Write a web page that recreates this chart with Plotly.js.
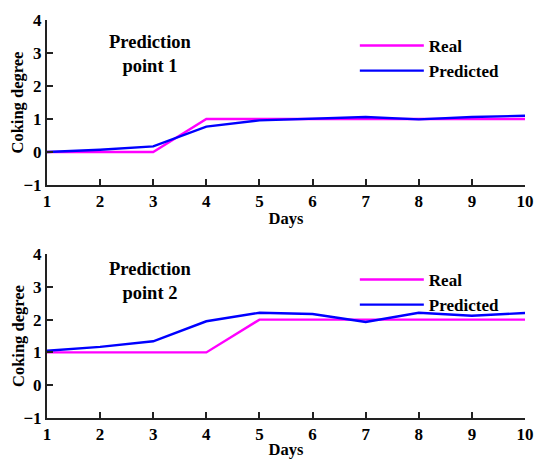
<!DOCTYPE html>
<html><head><meta charset="utf-8">
<script src="https://cdn.plot.ly/plotly-3.0.1.min.js"></script>
<style>body{margin:0;padding:0;background:#fff}#chart{width:534px;height:459px}</style>
</head><body><div id="chart"></div>
<script>
const days = [1,2,3,4,5,6,7,8,9,10];
const real1 = [0,0,0,1,1,1,1,1,1,1];
const pred1 = [0,0.07,0.17,0.77,0.96,1.02,1.06,0.99,1.06,1.1];
const real2 = [1,1,1,1,2,2,2,2,2,2];
const pred2 = [1.05,1.17,1.34,1.95,2.21,2.17,1.93,2.21,2.12,2.2];
const yTicks = [-1,0,1,2,3,4];
const pointLabels = ["Prediction<br>point 1","Prediction<br>point 2"];
const yTitle = "Coking degree";
const xTitle = "Days";

const F = "Times New Roman";
const MAG = "#ff00ff", BLU = "#0000ff";

const traces = [
  {x:days,y:real1,mode:"lines",name:"Real",line:{color:MAG,width:2.4},xaxis:"x",yaxis:"y",legend:"legend"},
  {x:days,y:pred1,mode:"lines",name:"Predicted",line:{color:BLU,width:2.4},xaxis:"x",yaxis:"y",legend:"legend"},
  {x:days,y:real2,mode:"lines",name:"Real",line:{color:MAG,width:2.4},xaxis:"x2",yaxis:"y2",legend:"legend2"},
  {x:days,y:pred2,mode:"lines",name:"Predicted",line:{color:BLU,width:2.4},xaxis:"x2",yaxis:"y2",legend:"legend2"}
];

function xa(anchor){
  return {range:[1,10],tickvals:days,ticks:"inside",ticklen:6,tickwidth:2,tickcolor:"#222",
    showline:true,linecolor:"#222",linewidth:2,showgrid:false,zeroline:false,anchor:anchor,
    tickfont:{family:F,size:17,color:"#000",weight:"bold"},
    title:{text:"<b>"+xTitle+"</b>",font:{family:F,size:16.5,color:"#000"},standoff:2},
    domain:[0,1]};
}
function ya(anchor,dom){
  return {range:[-1,4],tickvals:yTicks,ticks:"inside",ticklen:6,tickwidth:2,tickcolor:"#222",
    showline:true,linecolor:"#222",linewidth:2,showgrid:false,zeroline:false,anchor:anchor,
    tickfont:{family:F,size:17,color:"#000",weight:"bold"},
    domain:dom};
}
const legFont = {family:F,size:17,color:"#000",weight:"bold"};
const yTitleAnn = (yc) => ({text:"<b>"+yTitle+"</b>",xref:"paper",yref:"paper",x:-0.0607,y:yc,xanchor:"center",yanchor:"middle",
  textangle:-90,showarrow:false,font:{family:F,size:16.5,color:"#000"}});
const layout = {
  width:534,height:459,
  font:{family:F},
  margin:{l:47,r:9,t:20,b:41},
  paper_bgcolor:"#fff",plot_bgcolor:"#fff",
  xaxis:xa("y"), yaxis:ya("x",[0.5854,1]),
  xaxis2:xa("y2"), yaxis2:ya("x2",[0,0.412]),
  legend:{x:0.644,y:0.98,xanchor:"left",yanchor:"top",font:legFont,bgcolor:"rgba(0,0,0,0)",tracegroupgap:0,itemwidth:64},
  legend2:{x:0.644,y:0.392,xanchor:"left",yanchor:"top",font:legFont,bgcolor:"rgba(0,0,0,0)",tracegroupgap:0,itemwidth:64},
  annotations:[
    {text:"<b>"+pointLabels[0]+"</b>",xref:"paper",yref:"paper",x:0.2155,y:0.9146,xanchor:"center",yanchor:"middle",showarrow:false,font:{family:F,size:18.5,color:"#000"}},
    {text:"<b>"+pointLabels[1]+"</b>",xref:"paper",yref:"paper",x:0.2155,y:0.344,xanchor:"center",yanchor:"middle",showarrow:false,font:{family:F,size:18.5,color:"#000"}},
    yTitleAnn(0.7927),
    yTitleAnn(0.206)
  ]
};
Plotly.newPlot("chart",traces,layout,{displayModeBar:false,staticPlot:true});
</script></body></html>
